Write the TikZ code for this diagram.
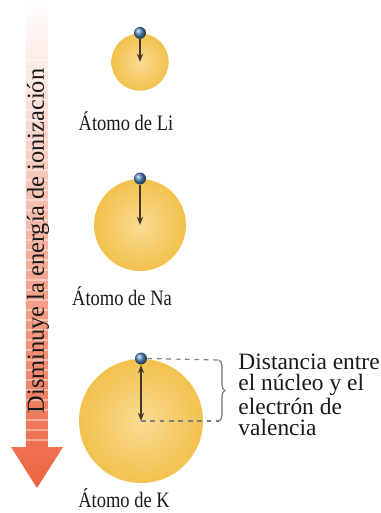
\documentclass[tikz,border=0pt]{standalone}
\usepackage{fontspec}
\setmainfont{Liberation Serif}
\newfontfamily\atomfont[FakeStretch=0.84]{Liberation Serif}
\usepackage{xcolor}
\usetikzlibrary{arrows.meta, decorations.pathreplacing, positioning}

\definecolor{atomin}{HTML}{FADB92}
\definecolor{atomout}{HTML}{F3C24E}
\definecolor{trendmid}{HTML}{F4AA94}
\definecolor{trendbot}{HTML}{EC6440}
\definecolor{elecblue}{HTML}{5288BE}
\definecolor{radcol}{HTML}{45362A}

\begin{document}
\begin{tikzpicture}[
  x=0.15mm, y=-0.15mm,
  atom/.style  = {circle, inner sep=0pt, inner color=atomin, outer color=atomout},
  elec/.style  = {circle, inner sep=0pt, minimum size=1.8mm, ball color=elecblue},
  lbl/.style   = {font=\atomfont\fontsize{9.4}{9}\selectfont, text=black!90, inner sep=0pt},
  note/.style  = {font=\fontsize{10}{8.9}\selectfont, text=black!90, inner sep=0pt},
  rad/.style   = {-{Stealth[length=3.5pt,width=2.6pt]}, draw=radcol, line width=0.6pt},
  guide/.style = {dash pattern=on 2pt off 2pt, draw=black!50, line width=0.5pt}
]
  \useasboundingbox (0,0) rectangle (381,513);

  % trend arrow on the left
  \shade[top color=white, middle color=trendmid, bottom color=trendbot]
    (26,0) -- (48,0) -- (48,447) -- (63,447) -- (37,488) -- (11,447) -- (26,447) -- cycle;
  \foreach \y in {60,70,...,440}
    \draw[white, opacity=0.4, line width=0.5pt] (26,\y) -- (48,\y);
  \node[rotate=90, font=\fontsize{10.4}{12}\selectfont, text=black!90] (trend) at (38,241)
    {Disminuye la energía de ionización};

  % Li
  \node[atom, minimum size=8.6mm] (li) at (140,62) {};
  \node[elec] (eli) at (li.north) {};
  \draw[rad] (eli.south) -- (li.center);
  \node[lbl] (lili) at (126,121) {Átomo de Li};

  % Na
  \node[atom, minimum size=13.8mm] (na) at (140,225) {};
  \node[elec] (ena) at (na.north) {};
  \draw[rad] (ena.south) -- (na.center);
  \node[lbl] (lina) at (122,296) {Átomo de Na};

  % K
  \node[atom, minimum size=18.6mm] (k) at (141,421) {};
  \node[elec] (ek) at (k.north) {};
  \draw[rad, {Stealth[length=3.5pt,width=2.6pt]}-{Stealth[length=3.5pt,width=2.6pt]}] (ek.south) -- (k.center);
  \node[lbl] (lik) at (124,498) {Átomo de K};

  % distance bracket
  \coordinate (btop) at (219,360);
  \coordinate (bbot) at (219,421);
  \draw[guide] (ek.east) -- (btop);
  \draw[guide] (k.center) -- (bbot);
  \draw[black!55, line width=0.5pt, decorate, decoration={brace, amplitude=2.5pt}] (btop) -- (bbot);
  \node[note, anchor=north west, align=left] (dist) at (238,354)
    {Distancia entre\\el núcleo y el\\electrón de\\valencia};
\end{tikzpicture}
\end{document}
